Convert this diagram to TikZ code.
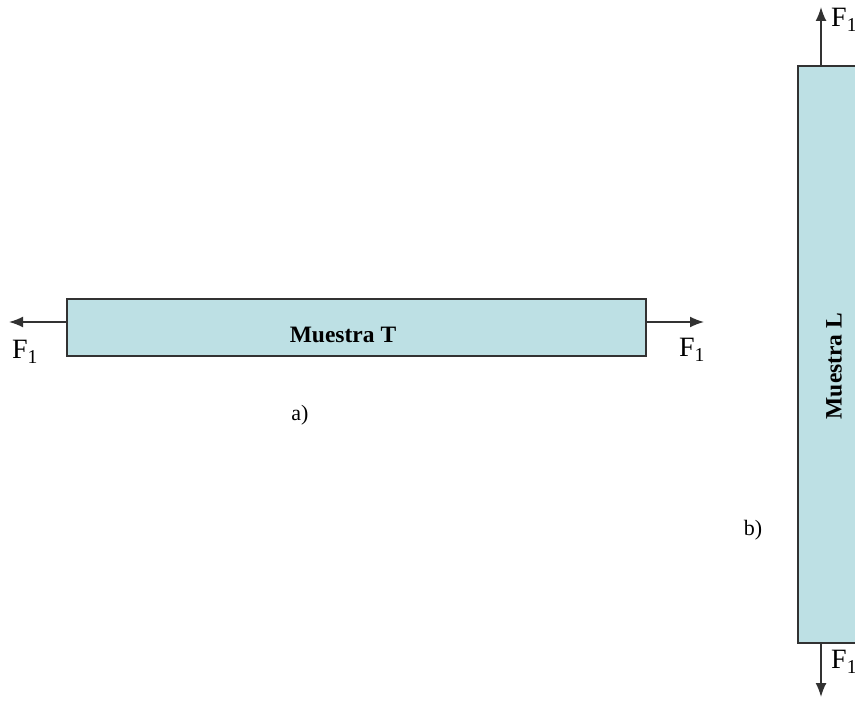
\documentclass[tikz,border=0pt]{standalone}
\usepackage{fontspec}
\setmainfont{Liberation Serif}
\usetikzlibrary{arrows.meta,positioning}
\definecolor{probeta}{RGB}{189,224,228}
\definecolor{borde}{RGB}{50,50,50}

\begin{document}
\begin{tikzpicture}[
  x=1pt, y=-1pt,
  bar/.style={draw=borde, line width=1.6pt, fill=probeta, inner sep=0pt},
  lbl/.style={font=\bfseries\fontsize{23.5}{26}\selectfont, inner sep=0pt},
  force/.style={font=\fontsize{28}{30}\selectfont, inner sep=0pt},
  tag/.style={font=\fontsize{22}{24}\selectfont, inner sep=0pt},
  pull/.style={-{Latex[length=14pt,width=11pt]}, draw=borde, line width=1.6pt}
]
\useasboundingbox (0,0) rectangle (855,706);
\clip (0,0) rectangle (855,706);

% muestra T (horizontal)
\node[bar, minimum width=579pt, minimum height=57pt] (barT) at (356.5,327.5) {};
\node[lbl] (txtT) at (343,335) {Muestra T};
\coordinate (endTl) at (9,322);
\coordinate (endTr) at (704,322);
\draw[pull] ([yshift=5.5pt]barT.west) -- (endTl);
\draw[pull] ([yshift=5.5pt]barT.east) -- (endTr);
\node[force] (fTl) at (25,352) {F\textsubscript{1}};
\node[force] (fTr) at (692,350) {F\textsubscript{1}};
\node[tag] (a) at (300,415) {a)};

% muestra L (vertical)
\node[bar, minimum width=62pt, minimum height=577pt] (barL) at (829,354.5) {};
\node[lbl, rotate=90] (txtL) at (834,366) {Muestra L};
\coordinate (endLt) at (821,7);
\coordinate (endLb) at (821,697);
\draw[pull] ([xshift=-8pt]barL.north) -- (endLt);
\draw[pull] ([xshift=-8pt]barL.south) -- (endLb);
\node[force, anchor=west] (fLt) at (831,20) {F\textsubscript{1}};
\node[force, anchor=west] (fLb) at (831,662) {F\textsubscript{1}};
\node[tag] (b) at (753,530) {b)};
\end{tikzpicture}
\end{document}
